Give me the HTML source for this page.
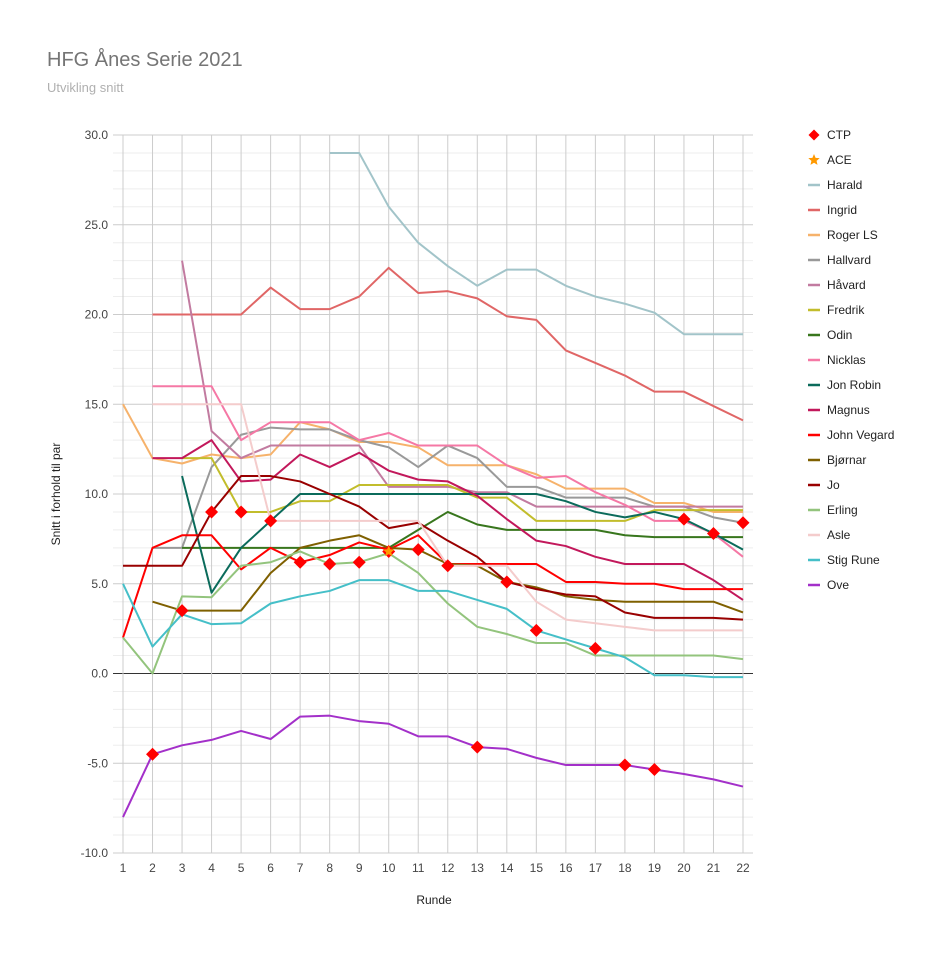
<!DOCTYPE html>
<html><head><meta charset="utf-8"><style>
body{margin:0;background:#fff;font-family:"Liberation Sans",sans-serif}
svg text{font-family:"Liberation Sans",sans-serif}
</style></head><body>
<svg id="chart" width="944" height="954" xmlns="http://www.w3.org/2000/svg">
<text x="47" y="66" font-size="20" fill="#757575">HFG Ånes Serie 2021</text>
<text x="47" y="92" font-size="13" fill="#b0b0b0">Utvikling snitt</text>
<text x="434" y="904" font-size="12" fill="#222" text-anchor="middle">Runde</text>
<text transform="translate(60,494) rotate(-90)" font-size="12" fill="#222" text-anchor="middle">Snitt i forhold til par</text>
<g id="grid"></g><g id="series"></g><g id="marks"></g><g id="legend"></g>
</svg>
<script>
const rounds=[1,2,3,4,5,6,7,8,9,10,11,12,13,14,15,16,17,18,19,20,21,22];
const yTicks=[30,25,20,15,10,5,0,-5,-10];
const N=null;
const harald=[N,N,N,N,N,N,N,29,29,26,24,22.7,21.6,22.5,22.5,21.6,21,20.6,20.1,18.9,18.9,18.9];
const ingrid=[N,20,20,20,20,21.5,20.3,20.3,21,22.6,21.2,21.3,20.9,19.9,19.7,18,17.3,16.6,15.7,15.7,14.9,14.1];
const rogerLS=[15,12,11.7,12.2,12,12.2,14,13.6,12.9,12.9,12.6,11.6,11.6,11.6,11.1,10.3,10.3,10.3,9.5,9.5,9,9];
const hallvard=[N,7,7,11.5,13.3,13.7,13.6,13.6,13,12.6,11.5,12.7,12,10.4,10.4,9.8,9.8,9.8,9.3,9.3,8.7,8.4];
const havard=[N,N,23,13.5,12,12.7,12.7,12.7,12.7,10.4,10.4,10.4,10.1,10.1,9.3,9.3,9.3,9.3,9.3,9.3,9.3,9.3];
const fredrik=[N,N,12,12,9,9,9.6,9.6,10.5,10.5,10.5,10.5,9.8,9.8,8.5,8.5,8.5,8.5,9.1,9.1,9.1,9.1];
const odin=[N,N,7,7,7,7,7,7,7,7,8,9,8.3,8,8,8,8,7.7,7.6,7.6,7.6,7.6];
const nicklas=[N,16,16,16,13,14,14,14,13,13.4,12.7,12.7,12.7,11.6,10.9,11,10.1,9.4,8.5,8.5,7.8,6.5];
const jonRobin=[N,N,11,4.5,7,8.5,10,10,10,10,10,10,10,10,10,9.6,9,8.7,9,8.6,7.8,6.9];
const magnus=[N,12,12,13,10.7,10.8,12.2,11.5,12.3,11.3,10.8,10.7,9.9,8.6,7.4,7.1,6.5,6.1,6.1,6.1,5.2,4.1];
const johnVegard=[2,7,7.7,7.7,5.8,7,6.2,6.6,7.3,6.9,7.7,6.1,6.1,6.1,6.1,5.1,5.1,5,5,4.7,4.7,4.7];
const bjornar=[N,4,3.5,3.5,3.5,5.6,7,7.4,7.7,7,6.9,6.1,6,5.1,4.8,4.3,4.1,4,4,4,4,3.4];
const jo=[6,6,6,9,11,11,10.7,10,9.3,8.1,8.4,7.4,6.5,5.1,4.7,4.4,4.3,3.4,3.1,3.1,3.1,3];
const erling=[2,0,4.3,4.25,6,6.2,6.8,6.1,6.2,6.7,5.6,3.9,2.6,2.2,1.7,1.7,1,1,1,1,1,0.8];
const asle=[N,15,15,15,15,8.5,8.5,8.5,8.5,8.5,8.5,6,6,6,4,3,2.8,2.6,2.4,2.4,2.4,2.4];
const stigRune=[5,1.5,3.3,2.75,2.8,3.9,4.3,4.6,5.2,5.2,4.6,4.6,4.1,3.6,2.4,1.9,1.4,0.9,-0.1,-0.1,-0.2,-0.2];
const ove=[-8,-4.5,-4,-3.7,-3.2,-3.65,-2.4,-2.35,-2.65,-2.8,-3.5,-3.5,-4.1,-4.2,-4.7,-5.1,-5.1,-5.1,-5.35,-5.6,-5.9,-6.3];
const ctp=[N,-4.5,3.5,9,9,8.5,6.2,6.1,6.2,6.8,6.9,6,-4.1,5.1,2.4,N,1.4,-5.1,-5.35,8.6,7.8,8.4];
const ace=[N,N,N,N,N,N,N,N,N,6.8,N,N,N,N,N,N,N,N,N,N,N,N];
const seriesNames=["Harald","Ingrid","Roger LS","Hallvard","Håvard","Fredrik","Odin","Nicklas","Jon Robin","Magnus","John Vegard","Bjørnar","Jo","Erling","Asle","Stig Rune","Ove"];
const seriesData=[harald,ingrid,rogerLS,hallvard,havard,fredrik,odin,nicklas,jonRobin,magnus,johnVegard,bjornar,jo,erling,asle,stigRune,ove];
const colors=["#a2c4c9","#e06666","#f6b26b","#999999","#c27ba0","#c2bd2c","#38761d","#f578a5","#0b6b5b","#c2185b","#ff0000","#7f6000","#990000","#93c47d","#f4cccc","#45bfc8","#a330c9"];

const NS="http://www.w3.org/2000/svg";
const X0=123,X1=743,Y0=135,Y1=853,VMAX=30,VMIN=-10;
function xs(r){return X0+(r-1)*(X1-X0)/21;}
function ys(v){return Y0+(VMAX-v)*(Y1-Y0)/(VMAX-VMIN);}
function mk(t,a,p){const e=document.createElementNS(NS,t);for(const k in a)e.setAttribute(k,a[k]);p.appendChild(e);return e;}
const grid=document.getElementById('grid');
for(let v=VMIN;v<=VMAX;v++){
  if(v%5!==0){const l=mk('line',{x1:X0-10,x2:X1+10,y1:ys(v),y2:ys(v),stroke:'#eeeeee','stroke-width':1},grid);
  
  }
}
for(const v of yTicks){
  const l=mk('line',{x1:X0-10,x2:X1+10,y1:ys(v),y2:ys(v),stroke:v===0?'#333':'#cccccc','stroke-width':1},grid);
  
  
  const t=mk('text',{x:108,y:ys(v)+4,'font-size':12,fill:'#444','text-anchor':'end'},grid);
  t.textContent=v.toFixed(1);
  
  
}
for(const r of rounds){
  const l=mk('line',{x1:xs(r),x2:xs(r),y1:Y0,y2:Y1,stroke:'#cccccc','stroke-width':1},grid);
  
  
  const t=mk('text',{x:xs(r),y:872,'font-size':12,fill:'#444','text-anchor':'middle'},grid);
  t.textContent=r;
  
  
}
const sg=document.getElementById('series');
seriesData.forEach((d,i)=>{
  let p='';d.forEach((v,j)=>{if(v!==null)p+=(p?'L':'M')+xs(rounds[j])+' '+ys(v);});
  const e=mk('path',{d:p,fill:'none',stroke:colors[i],'stroke-width':2,'stroke-linejoin':'round'},sg);
  
  
});
const mg=document.getElementById('marks');
function diamond(cx,cy,s){return `M${cx} ${cy-s}L${cx+s} ${cy}L${cx} ${cy+s}L${cx-s} ${cy}Z`;}
function star(cx,cy,R){let p='';for(let k=0;k<10;k++){const r=k%2?R*0.45:R;const a=-Math.PI/2+k*Math.PI/5;p+=(k?'L':'M')+(cx+r*Math.cos(a))+' '+(cy+r*Math.sin(a));}return p+'Z';}
ctp.forEach((v,j)=>{if(v===null)return;
  const e=mk('path',{d:diamond(xs(rounds[j]),ys(v),6.5),fill:'#ff0000'},mg);
  
  });
ace.forEach((v,j)=>{if(v===null)return;
  const e=mk('path',{d:star(xs(rounds[j]),ys(v),6),fill:'#ff9900'},mg);
  
  });
const lg=document.getElementById('legend');
const LX=808,LY=135,LD=25;
const names=["CTP","ACE"].concat(seriesNames);
names.forEach((n,i)=>{
  const y=LY+i*LD;
  if(i===0){const e=mk('path',{d:diamond(LX+6,y,5.5),fill:'#ff0000'},lg);
    
    }
  else if(i===1){const e=mk('path',{d:star(LX+6,y,6),fill:'#ff9900'},lg);
    
    }
  else{const e=mk('line',{x1:LX,x2:LX+12,y1:y,y2:y,stroke:colors[i-2],'stroke-width':2.5},lg);
    
    }
  const t=mk('text',{x:827,y:y+4,'font-size':12,fill:'#222'},lg);
  t.textContent=n;
  
  
});
</script>
</body></html>
